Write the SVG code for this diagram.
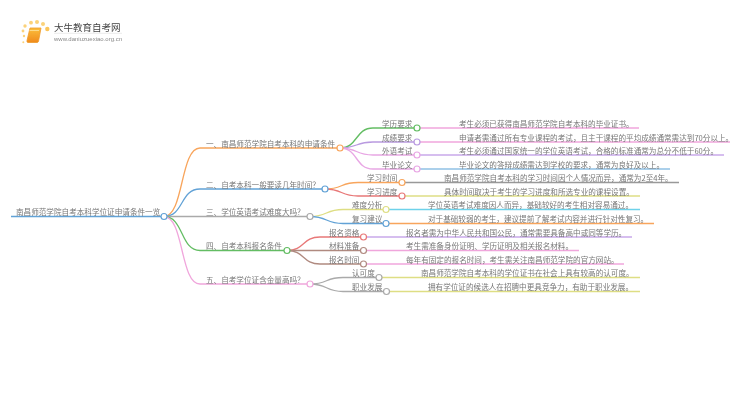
<svg xmlns="http://www.w3.org/2000/svg" width="750" height="410" viewBox="0 0 750 410">
<defs>
<style>
text{font-family:"Noto Sans CJK SC","Liberation Sans",sans-serif;font-size:7.6px;fill:#777}
path,line{fill:none;stroke-width:1.3}
circle.n{fill:#fff;stroke-width:1.2}
.or{stroke:#f8a55c}.bl{stroke:#62a2d6}.gy{stroke:#aaa}.gr{stroke:#63bd63}.pk{stroke:#f0a6dc}.pu{stroke:#b99ae0}.mg{stroke:#e8a6e4}.rd{stroke:#e87878}.ye{stroke:#dede84}.cy{stroke:#6ed2ea}.br{stroke:#b08a80}.dg{stroke:#999}.lb{stroke:#8fc0e4}.lp{stroke:#c9a8ea}
</style>
<filter id="soft" x="0" y="0" width="100%" height="100%"><feGaussianBlur stdDeviation="0.35"/></filter>
<linearGradient id="bk" x1="0" y1="0" x2="0" y2="1"><stop offset="0" stop-color="#fbbf3c"/><stop offset="1" stop-color="#f08a1c"/></linearGradient>
</defs>
<rect width="750" height="410" fill="#fff"/>
<g filter="url(#soft)">
<g id="logo">
<g fill="#fbd27a"><circle cx="23" cy="31" r="1.4"/><circle cx="25" cy="26" r="1.700"/><circle cx="31" cy="22.700" r="1.900"/><circle cx="37" cy="22" r="2"/><circle cx="43" cy="24" r="2"/><circle cx="47.300" cy="29" r="2.200" fill="#fbc55a"/><circle cx="24" cy="36" r="1.200"/><circle cx="23.300" cy="42.300" r="1"/></g>
<path d="M30 28H41L38.500 41.500Q38 42.500 37 42.500H28Q26.500 42.500 27 40.500Z" style="fill:url(#bk);stroke:#ee9a2c;stroke-width:.8"/>
<path d="M29.500 30.500H39" style="stroke:#fde3a0;stroke-width:.8"/>
<text x="54" y="31" style="font-size:9.500px;fill:#444">大牛教育自考网</text>
<line x1="54" y1="33.300" x2="122" y2="33.300" style="stroke:#ddd;stroke-width:.6"/>
<text x="54" y="40.700" style="font-family:'Liberation Sans',sans-serif;font-size:6px;fill:#888">www.daniuzuexiao.org.cn</text>
</g>
<g id="connectors">
<line class="bl" x1="11" y1="216.500" x2="164" y2="216.500"/>
<path class="or" d="M164 216.500C184 216.500 180 148 200 148H340"/>
<path class="bl" d="M164 216.500C184 216.500 180 189 200 189H325"/>
<path class="gy" d="M164 216.500H310"/>
<path class="gr" d="M164 216.500C184 216.500 180 250.500 200 250.500H287"/>
<path class="pk" d="M164 216.500C184 216.500 180 284 200 284H310"/>
<path class="gr" d="M340 148C358 148 355 128 373 128H417"/>
<path class="pu" d="M340 148C358 148 355 142 373 142H417"/>
<path class="mg" d="M340 148C358 148 355 155 373 155H417"/>
<path class="mg" d="M340 148C358 148 355 169 373 169H417"/>
<path class="or" d="M325 189C343 189 340 182.500 358 182.500H402"/>
<path class="rd" d="M325 189C343 189 340 196 358 196H402"/>
<path class="ye" d="M310 216.500C328 216.500 325 209.500 343 209.500H386"/>
<path class="bl" d="M310 216.500C328 216.500 325 223.500 343 223.500H386"/>
<path class="rd" d="M287 250.500C305 250.500 302 237 320 237H363.500"/>
<path class="br" d="M287 250.500H363.500"/>
<path class="br" d="M287 250.500C305 250.500 302 264 320 264H363.500"/>
<path class="gy" d="M310 284C328 284 325 277.500 343 277.500H379"/>
<path class="gy" d="M310 284C328 284 325 291.500 343 291.500H386.500"/>
<line class="pk" x1="417" y1="128" x2="639" y2="128"/>
<line class="pk" x1="417" y1="142" x2="730" y2="142"/>
<line class="lp" x1="417" y1="155" x2="724" y2="155"/>
<line class="lb" x1="417" y1="169" x2="670" y2="169"/>
<line class="dg" x1="402" y1="182.500" x2="679" y2="182.500"/>
<line class="ye" x1="402" y1="196" x2="640" y2="196"/>
<line class="cy" x1="386" y1="209.500" x2="640" y2="209.500"/>
<line class="or" x1="386" y1="223.500" x2="654" y2="223.500"/>
<line class="lp" x1="363.500" y1="237" x2="632" y2="237"/>
<line class="pk" x1="363.500" y1="250.500" x2="579" y2="250.500"/>
<line class="pk" x1="363.500" y1="264" x2="624" y2="264"/>
<line class="ye" x1="379" y1="277.500" x2="640" y2="277.500"/>
<line class="ye" x1="386.500" y1="291.500" x2="640" y2="291.500"/>
</g>
<g id="root"><text x="16" y="215">南昌师范学院自考本科学位证申请条件一览</text><circle class="n bl" cx="164" cy="216.500" r="3"/></g>
<g id="b1"><text x="206" y="146.500">一、南昌师范学院自考本科的申请条件</text><circle class="n or" cx="340" cy="148" r="3"/></g>
<g id="b2"><text x="206" y="187.500">二、自考本科一般要读几年时间？</text><circle class="n bl" cx="325" cy="189" r="3"/></g>
<g id="b3"><text x="206" y="215">三、学位英语考试难度大吗？</text><circle class="n gy" cx="310" cy="216.500" r="3"/></g>
<g id="b4"><text x="206" y="249">四、自考本科报名条件</text><circle class="n gr" cx="287" cy="250.500" r="3"/></g>
<g id="b5"><text x="206" y="282.500">五、自考学位证含金量高吗？</text><circle class="n pk" cx="310" cy="284" r="3"/></g>
<g id="l1"><text x="382" y="126.500">学历要求</text><circle class="n gr" cx="417" cy="128" r="3"/><text x="459" y="126.500">考生必须已获得南昌师范学院自考本科的毕业证书。</text></g>
<g id="l2"><text x="382" y="140.500">成绩要求</text><circle class="n pu" cx="417" cy="142" r="3"/><text x="459" y="140.500">申请者需通过所有专业课程的考试，且主干课程的平均成绩通常需达到70分以上。</text></g>
<g id="l3"><text x="382" y="153.500">外语考试</text><circle class="n mg" cx="417" cy="155" r="3"/><text x="459" y="153.500">考生必须通过国家统一的学位英语考试，合格的标准通常为总分不低于60分。</text></g>
<g id="l4"><text x="382" y="167.500">毕业论文</text><circle class="n mg" cx="417" cy="169" r="3"/><text x="459" y="167.500">毕业论文的答辩成绩需达到学校的要求，通常为良好及以上。</text></g>
<g id="l5"><text x="367" y="181">学习时间</text><circle class="n or" cx="402" cy="182.500" r="3"/><text x="444" y="181">南昌师范学院自考本科的学习时间因个人情况而异，通常为2至4年。</text></g>
<g id="l6"><text x="367" y="194.500">学习进度</text><circle class="n rd" cx="402" cy="196" r="3"/><text x="444" y="194.500">具体时间取决于考生的学习进度和所选专业的课程设置。</text></g>
<g id="l7"><text x="352" y="208">难度分析</text><circle class="n ye" cx="386" cy="209.500" r="3"/><text x="428" y="208">学位英语考试难度因人而异，基础较好的考生相对容易通过。</text></g>
<g id="l8"><text x="352" y="222">复习建议</text><circle class="n bl" cx="386" cy="223.500" r="3"/><text x="428" y="222">对于基础较弱的考生，建议提前了解考试内容并进行针对性复习。</text></g>
<g id="l9"><text x="329" y="235.500">报名资格</text><circle class="n rd" cx="363.500" cy="237" r="3"/><text x="406" y="235.500">报名者需为中华人民共和国公民，通常需要具备高中或同等学历。</text></g>
<g id="l10"><text x="329" y="249">材料准备</text><circle class="n br" cx="363.500" cy="250.500" r="3"/><text x="406" y="249">考生需准备身份证明、学历证明及相关报名材料。</text></g>
<g id="l11"><text x="329" y="262.500">报名时间</text><circle class="n br" cx="363.500" cy="264" r="3"/><text x="406" y="262.500">每年有固定的报名时间，考生需关注南昌师范学院的官方网站。</text></g>
<g id="l12"><text x="352" y="276">认可度</text><circle class="n gy" cx="379" cy="277.500" r="3"/><text x="421" y="276">南昌师范学院自考本科的学位证书在社会上具有较高的认可度。</text></g>
<g id="l13"><text x="352" y="290">职业发展</text><circle class="n gy" cx="386.500" cy="291.500" r="3"/><text x="428" y="290">拥有学位证的候选人在招聘中更具竞争力，有助于职业发展。</text></g>
</g>
</svg>
